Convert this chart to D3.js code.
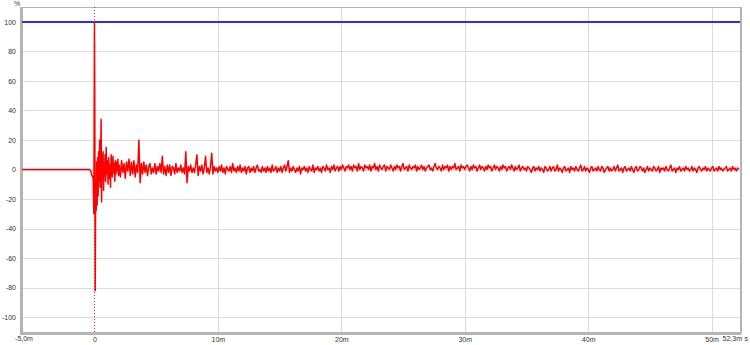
<!DOCTYPE html>
<html><head><meta charset="utf-8">
<script src="https://cdn.jsdelivr.net/npm/d3@7"></script>
<style>body{margin:0;background:#fff}svg{display:block}text{font-family:"Liberation Sans",Arial,sans-serif}</style>
</head><body>
<svg id="c" width="750" height="345"></svg>
<script>
// ---- data ----
const yTicks = [-100, -80, -60, -40, -20, 0, 20, 40, 60, 80, 100];
const yTickLabels = ["-100", "-80", "-60", "-40", "-20", "0", "20", "40", "60", "80", "100"];
const xTicks = [0, 10, 20, 30, 40, 50];
const xTickLabels = ["0", "10m", "20m", "30m", "40m", "50m"];
const xStartLabel = "-5,0m";
const xEndLabel = "52,3m";
const xUnit = "s";
const yUnit = "%";
const xDomain = [-5.87, 52.3];
const yDomain = [-110, 110];
const referenceLevel = 100;
// early part of the impulse: time (ms) and value (%)
const earlyTimes = [-5.87, -0.4, -0.3, -0.2, -0.1, -0.05, 0.0, 0.03, 0.06, 0.1, 0.14, 0.18, 0.22, 0.26, 0.3, 0.34, 0.38, 0.42, 0.46, 0.5, 0.54, 0.58, 0.62, 0.66, 0.7, 0.74, 0.78, 0.82, 0.86, 0.9, 0.95, 1.0, 1.05, 1.1, 1.15, 1.2, 1.25, 1.3, 1.35, 1.4, 1.45, 1.5, 1.55, 1.6, 1.65, 1.7, 1.75, 1.8, 1.85, 1.9, 1.95];
const earlyValues = [0, 0, -1, -4, -6, -30, 100, 40, -82, -10, -28, 5, -24, 8, -18, 12, -8, 20, -12, 6, 34, -22, 10, -6, 12, -14, 4, -4, 10, -8, 15, -3, 6, -10, 8, -6, 3, -12, 10, 2, -5, 9, -2, 4, -8, 6, -3, 5, -1, 7, -4];
// tail sampled every 0.1 ms starting at 2.0 ms
const tailStart = 2.0;
const tailStep = 0.1;
const tailValues = [
 3,-5,6,-2,4,-6,5,-1,7,-4,
 5,-3,6,-5,3,-2,20,-9,4,-3,
 5,-2,3,-4,2,4,-3,1,-2,4,
 -3,2,-1,4,-2,9,-3,2,-4,3,
 -2,3,-4,2,1,-3,4,-2,1,-1,
 3,-2,1,-3,12,-9,2,-1,3,-2,
 1,-2,3,10,-4,2,-1,3,-3,1,
 9,-2,1,-3,2,11,-3,2,-1,1,
 -2,2,-1,3,-2,1,-3,2,0,-1,
 2,-2,4,-1,1,-2,2,-1,3,-2,
 1,-1,2,-3,1,2,-2,1,-1,2,
 -2,1,3,-1,0,-2,2,-1,1,-2,
 2,-1,1,-2,3,-1,0,2,-2,1,
 -1,2,-2,1,3,-1,2,6,-2,1,
 -1,2,0,-2,1,-1,2,-3,1,0,
 2,-1,1,-2,2,0,-1,3,-2,1,
 0,2,-1,1,-2,2,1,-1,3,0,
 1,-2,2,0,3,-1,1,2,-1,2,
 0,3,1,-1,2,1,3,0,2,-1,
 3,1,2,-1,4,0,2,1,-1,3,
 1,2,0,3,-1,2,1,4,0,2,
 -1,3,1,0,2,3,-1,2,1,0,
 3,1,-1,2,0,3,1,2,-1,2,
 4,0,1,2,-1,3,1,0,2,1,
 3,-1,2,0,1,3,0,2,-1,1,
 2,3,0,1,-1,2,4,1,0,2,
 1,-1,3,0,2,1,3,-1,2,0,
 2,1,4,0,1,2,-1,3,1,2,
 0,2,3,1,-1,2,0,3,1,2,
 -1,1,3,0,2,1,-1,2,0,3,
 1,2,-1,1,3,0,2,1,-1,2,
 0,3,1,2,-1,1,2,0,3,1,
 -1,2,0,1,3,-1,1,2,0,1,
 -1,2,1,0,-2,1,2,-1,1,0,
 2,-1,1,0,-2,2,1,-1,0,2,
 -1,1,2,-1,0,3,-1,1,0,-2,
 1,2,-1,0,1,-2,2,0,1,-1,
 2,0,-1,1,3,-1,0,2,-1,1,
 0,-2,1,2,-1,0,1,-1,2,0,
 -1,2,1,-2,0,1,2,-1,1,-1,
 0,2,-1,1,3,-1,0,1,-2,1,
 2,-1,0,1,-1,2,0,-2,1,2,
 -1,0,2,1,-1,1,-2,0,2,-1,
 1,0,-1,2,1,-1,0,2,-2,1,
 0,1,-1,2,0,-1,1,3,-1,0,
 1,-2,1,0,2,-1,0,1,-1,2,
 0,1,-1,0,2,-1,1,0,-2,1,
 2,0,-1,1,0,2,-1,1,0,-1,
 1,2,-1,0,1,-1,2,0,1,-1,
 0,1,2,-1,0,1,-1,2,0,1,
 -1,1,0
];

// ---- drawing ----
const L = 22, R = 740, T = 7, B = 332;
const svg = d3.select("#c");
const x = d3.scaleLinear().domain(xDomain).range([L, R]);
const y = d3.scaleLinear().domain(yDomain).range([B, T]);
const txt = "#333";

const pts = earlyTimes.map((t, i) => [t, earlyValues[i]])
  .concat(tailValues.map((v, i) => [tailStart + i * tailStep, v]));

// grid
svg.append("g").selectAll("line").data(yTicks).join("line")
  .attr("x1", L).attr("x2", R).attr("y1", d => Math.round(y(d)) + 0.5).attr("y2", d => Math.round(y(d)) + 0.5)
  .attr("stroke", "#dcdcdc").attr("stroke-width", 1);
svg.append("g").selectAll("line").data(xTicks.filter(d => d !== 0)).join("line")
  .attr("y1", T).attr("y2", B).attr("x1", d => Math.round(x(d)) + 0.5).attr("x2", d => Math.round(x(d)) + 0.5)
  .attr("stroke", "#dcdcdc").attr("stroke-width", 1);

// y axis labels
const yAxis = d3.axisLeft(y).tickValues(yTicks).tickSize(0).tickPadding(5)
  .tickFormat((d, i) => yTickLabels[i]);
const ga = svg.append("g").attr("transform", `translate(${L - 1},0)`).call(yAxis);
ga.select(".domain").remove();
ga.selectAll("text").attr("font-size", 7).attr("fill", txt);

// x axis labels
const xAxis = d3.axisBottom(x).tickValues(xTicks).tickSize(0).tickPadding(5)
  .tickFormat((d, i) => xTickLabels[i]);
const gx = svg.append("g").attr("transform", `translate(0,${B})`).call(xAxis);
gx.select(".domain").remove();
gx.selectAll("text").attr("font-size", 7).attr("fill", txt);

svg.append("text").attr("x", 24).attr("y", 341).attr("text-anchor", "middle")
  .attr("font-size", 7).attr("fill", txt).text(xStartLabel);
svg.append("text").attr("x", 742).attr("y", 341).attr("text-anchor", "end")
  .attr("font-size", 7).attr("fill", txt).text(xEndLabel);
svg.append("text").attr("x", 744.5).attr("y", 341).attr("text-anchor", "start")
  .attr("font-size", 7).attr("fill", txt).text(xUnit);
svg.append("text").attr("x", 17).attr("y", 6).attr("text-anchor", "middle")
  .attr("font-size", 7).attr("fill", txt).text(yUnit);

// border
svg.append("rect").attr("x", L + 0.5).attr("y", T + 0.5).attr("width", R - L).attr("height", B - T)
  .attr("fill", "none").attr("stroke", "#b4b4b4").attr("stroke-width", 1);
svg.append("line").attr("x1", L - 0.5).attr("x2", L - 0.5).attr("y1", T).attr("y2", B + 2)
  .attr("stroke", "#b4b4b4").attr("stroke-width", 3);
svg.append("line").attr("x1", L - 2).attr("x2", R + 1.5).attr("y1", B + 1.5).attr("y2", B + 1.5)
  .attr("stroke", "#b4b4b4").attr("stroke-width", 3);
svg.append("line").attr("x1", R + 1).attr("x2", R + 1).attr("y1", T).attr("y2", B)
  .attr("stroke", "#b4b4b4").attr("stroke-width", 2);

// reference lines
const x0 = Math.round(x(0)) + 0.5;
svg.append("line").attr("x1", x0).attr("x2", x0).attr("y1", T).attr("y2", B)
  .attr("stroke", "#ff2020").attr("stroke-width", 1).attr("stroke-dasharray", "1,2");
const yr = Math.round(y(referenceLevel));
svg.append("line").attr("x1", L).attr("x2", R).attr("y1", yr).attr("y2", yr)
  .attr("stroke", "#2b2bff").attr("stroke-width", 2);

// signal
svg.append("path").datum(pts)
  .attr("d", d3.line().x(d => x(d[0])).y(d => y(d[1])))
  .attr("fill", "none").attr("stroke", "#ff0000").attr("stroke-width", 1.5)
  .attr("stroke-linejoin", "round");
</script>
</body></html>
